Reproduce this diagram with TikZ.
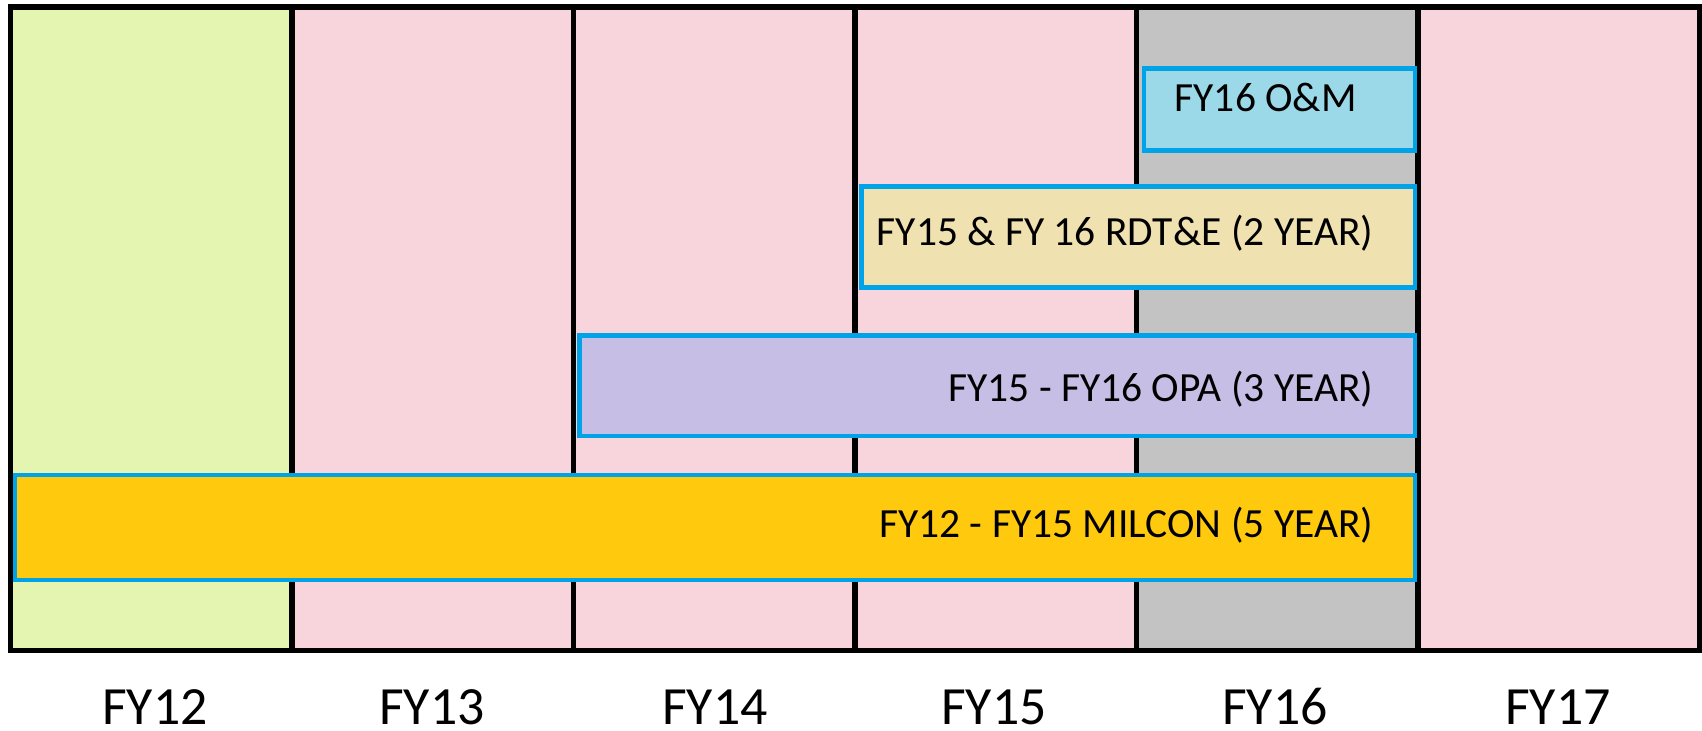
\documentclass[tikz,border=0pt]{standalone}
\usepackage{fontspec}
\setmainfont{Carlito}
\usepackage{tikz}

\definecolor{yrgreen}{HTML}{E4F5B2}
\definecolor{yrpink}{HTML}{F8D5DC}
\definecolor{yrgray}{HTML}{C3C3C3}
\definecolor{barblue}{HTML}{00A2E8}
\definecolor{omblue}{HTML}{9BD9E9}
\definecolor{rdtwheat}{HTML}{EFE2B0}
\definecolor{opalilac}{HTML}{C7BEE5}
\definecolor{milgold}{HTML}{FFC90E}

\tikzset{
  bar/.style={draw=barblue, line width=1.3pt},
  bartext/.style={inner sep=0pt, font=\fontsize{11.8}{14}\selectfont},
  yeartext/.style={inner sep=0pt, anchor=base, font=\fontsize{15.3}{18}\selectfont},
}

\begin{document}
\begin{tikzpicture}[x=0.01cm,y=-0.01cm]
\useasboundingbox (0,0) rectangle (1702,731);
% year columns
\fill[yrgreen] (10.5,7) rectangle (292,650.5);
\fill[yrpink] (292,7) rectangle (1136.5,650.5);
\fill[yrgray] (1136.5,7) rectangle (1418,650.5);
\fill[yrpink] (1418,7) rectangle (1699.5,650.5);
\draw[line width=1.5pt] (10.5,7) rectangle (1699.5,650.5);
\draw[line width=1.5pt] (292,7) -- (292,650.5);
\draw[line width=1.5pt] (573.5,7) -- (573.5,650.5);
\draw[line width=1.5pt] (855,7) -- (855,650.5);
\draw[line width=1.5pt] (1136.5,7) -- (1136.5,650.5);
\draw[line width=1.5pt] (1418,7) -- (1418,650.5);
% appropriation bars
\draw[bar, fill=milgold] (15,475) rectangle (1415,580);
\draw[bar, fill=opalilac] (579.5,335.5) rectangle (1415,436);
\draw[bar, fill=rdtwheat] (861.5,186.5) rectangle (1415,287.5);
\draw[bar, fill=omblue] (1144,68.5) rectangle (1415,150.5);
\node[bartext, anchor=base west] (om) at (1174,112) {FY16 O\&M};
\node[bartext, anchor=base east] (rdte) at (1374,246) {FY15 \& FY 16 RDT\&E (2 YEAR)};
\node[bartext, anchor=base east] (opa) at (1374,402) {FY15 - FY16 OPA (3 YEAR)};
\node[bartext, anchor=base east] (milcon) at (1374,538) {FY12 - FY15 MILCON (5 YEAR)};
% fiscal years
\node[yeartext] (fy12) at (155,725) {FY12};
\node[yeartext] (fy13) at (432,725) {FY13};
\node[yeartext] (fy14) at (715,725) {FY14};
\node[yeartext] (fy15) at (994,725) {FY15};
\node[yeartext] (fy16) at (1275,725) {FY16};
\node[yeartext] (fy17) at (1558,725) {FY17};
\end{tikzpicture}
\end{document}
